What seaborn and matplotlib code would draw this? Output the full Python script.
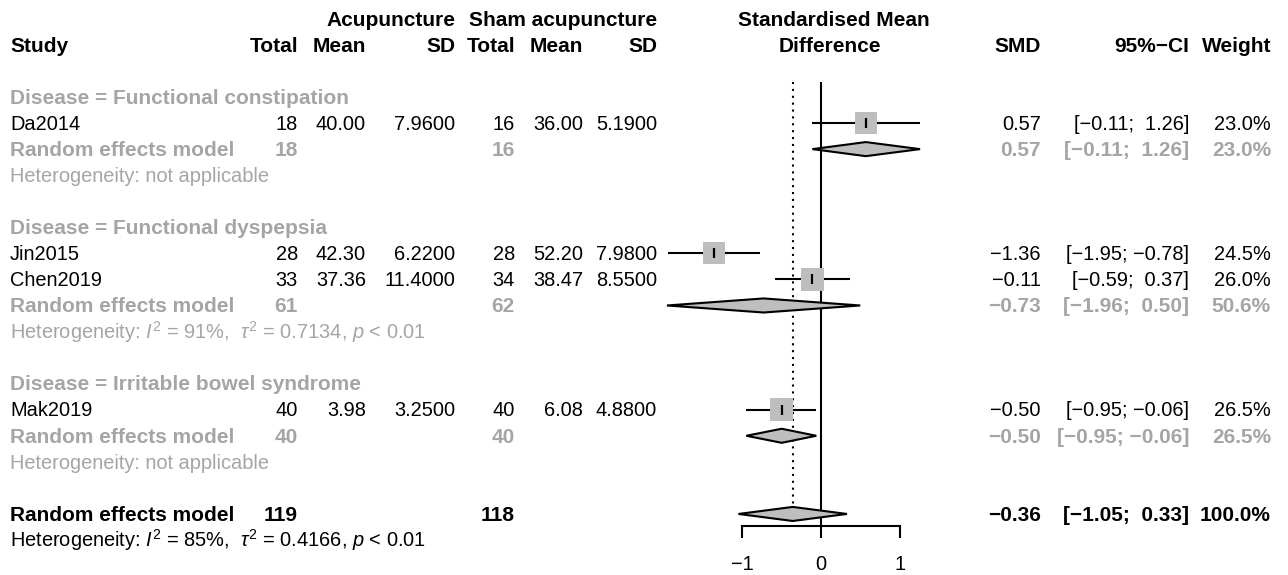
import numpy as np
import pandas as pd
import matplotlib
matplotlib.use("Agg")
import matplotlib.pyplot as plt
import seaborn as sns

# ---------------- data ----------------
studies = ["Da2014", "Jin2015", "Chen2019", "Mak2019"]
study_group = ["Functional constipation", "Functional dyspepsia",
               "Functional dyspepsia", "Irritable bowel syndrome"]
acu_total = [18, 28, 33, 40]
acu_mean = [40.00, 42.30, 37.36, 3.98]
acu_sd = [7.96, 6.22, 11.40, 3.25]
sham_total = [16, 28, 34, 40]
sham_mean = [36.00, 52.20, 38.47, 6.08]
sham_sd = [5.19, 7.98, 8.55, 4.88]
smd = [0.57, -1.36, -0.11, -0.50]
ci_lo = [-0.11, -1.95, -0.59, -0.95]
ci_hi = [1.26, -0.78, 0.37, -0.06]
weight = [23.0, 24.5, 26.0, 26.5]

groups = ["Functional constipation", "Functional dyspepsia", "Irritable bowel syndrome"]
grp_acu_total = [18, 61, 40]
grp_sham_total = [16, 62, 40]
grp_smd = [0.57, -0.73, -0.50]
grp_lo = [-0.11, -1.96, -0.95]
grp_hi = [1.26, 0.50, -0.06]
grp_weight = [23.0, 50.6, 26.5]
grp_i2 = [None, 91, None]
grp_tau2 = [None, 0.7134, None]
grp_p = [None, "< 0.01", None]

overall_acu_total = 119
overall_sham_total = 118
overall_smd = -0.36
overall_lo = -1.05
overall_hi = 0.33
overall_weight = 100.0
overall_i2 = 85
overall_tau2 = 0.4166
overall_p = "< 0.01"

x_ticks = [-1, 0, 1]

# ---------------- style ----------------
sns.set_theme(style="white")
plt.rcParams["font.family"] = ["Liberation Sans", "DejaVu Sans"]
plt.rcParams["mathtext.fontset"] = "custom"
plt.rcParams["mathtext.rm"] = "Liberation Sans"
plt.rcParams["mathtext.it"] = "Liberation Sans:italic"
plt.rcParams["mathtext.bf"] = "Liberation Sans:bold"

FS = 14.4
FSB = 15.0
GRAY_TXT = "#a5a5a5"
GRAY_FILL = "#bebebe"
MINUS = "\u2212"


def fmt(v, d=2):
    return f"{v:.{d}f}".replace("-", MINUS)


def fmt_ci(lo, hi):
    hs = fmt(hi)
    if hi >= 0:
        hs = " " + hs
    return f"[{fmt(lo)}; {hs}]"


def het_text(i2, tau2, p):
    if i2 is None:
        return "Heterogeneity: not applicable"
    return (r"Heterogeneity: $I^2$ = " + f"{i2}%, " + r" $\tau^2$ = "
            + f"{tau2:.4f}, " + r"$p$ " + p)


# ---------------- layout (rows) ----------------
ROW_PX0 = 97.0   # pixel of row 2
ROW_H = 26.06
W, H = 1288, 575
y_top = 2 - ROW_PX0 / ROW_H
y_bot = 2 + (H - ROW_PX0) / ROW_H
AXIS_PX = 526
y_axis = 2 + (AXIS_PX - ROW_PX0) / ROW_H
ZERO_PX = 821.0
SCALE = 78.6

fig = plt.figure(figsize=(W / 100, H / 100), dpi=100)
axt = fig.add_axes([0, 0, 1, 1])
axt.set_xlim(0, W)
axt.set_ylim(y_bot, y_top)
axt.axis("off")

axf = fig.add_axes([0, (H - AXIS_PX) / H, 1, AXIS_PX / H])
axf.set_xlim(-ZERO_PX / SCALE, (W - ZERO_PX) / SCALE)
axf.set_ylim(y_axis, y_top)
axf.patch.set_alpha(0)

# column right edges (px)
C_TOT1, C_MEAN1, C_SD1 = 298, 366, 455
C_TOT2, C_MEAN2, C_SD2 = 515, 583, 657
C_SMD, C_CI, C_W = 1041, 1189, 1271
C_STUDY = 10
BASE = 0.26  # baseline offset (rows) so text is vertically centred


def put(x, row, s, ha="right", color="black", bold=False, size=None):
    if size is None:
        size = FSB if bold else FS
    axt.text(x, row + BASE, s, ha=ha, va="baseline", color=color,
             fontweight="bold" if bold else "normal", fontsize=size)


# headers
put(C_SD1, -1, "Acupuncture", bold=True)
put(C_SD2, -1, "Sham acupuncture", bold=True)
put(834, -1, "Standardised Mean", ha="center", bold=True)
put(C_STUDY, 0, "Study", ha="left", bold=True)
for x, s in [(C_TOT1, "Total"), (C_MEAN1, "Mean"), (C_SD1, "SD"),
             (C_TOT2, "Total"), (C_MEAN2, "Mean"), (C_SD2, "SD"),
             (C_SMD, "SMD"), (C_CI, "95%\u2212CI"), (C_W, "Weight")]:
    put(x, 0, s, bold=True)
put(830, 0, "Difference", ha="center", bold=True)

# compute rows
study_rows = []
grp_rows = []
row = 2
for g_i, g in enumerate(groups):
    put(C_STUDY, row, f"Disease = {g}", ha="left", color=GRAY_TXT, bold=True)
    row += 1
    for i, s in enumerate(studies):
        if study_group[i] == g:
            study_rows.append(row)
            row += 1
    grp_rows.append(row)
    row += 1
    put(C_STUDY, row, het_text(grp_i2[g_i], grp_tau2[g_i], grp_p[g_i]),
        ha="left", color=GRAY_TXT)
    row += 2
overall_row = row

# study text
for i, s in enumerate(studies):
    r = study_rows[i]
    put(C_STUDY, r, s, ha="left")
    put(C_TOT1, r, str(acu_total[i]))
    put(C_MEAN1, r, fmt(acu_mean[i]))
    put(C_SD1, r, fmt(acu_sd[i], 4))
    put(C_TOT2, r, str(sham_total[i]))
    put(C_MEAN2, r, fmt(sham_mean[i]))
    put(C_SD2, r, fmt(sham_sd[i], 4))
    put(C_SMD, r, fmt(smd[i]))
    put(C_CI, r, fmt_ci(ci_lo[i], ci_hi[i]))
    put(C_W, r, f"{weight[i]:.1f}%")

# subgroup text
for g_i in range(len(groups)):
    r = grp_rows[g_i]
    put(C_STUDY, r, "Random effects model", ha="left", color=GRAY_TXT, bold=True)
    put(C_TOT1, r, str(grp_acu_total[g_i]), color=GRAY_TXT, bold=True)
    put(C_TOT2, r, str(grp_sham_total[g_i]), color=GRAY_TXT, bold=True)
    put(C_SMD, r, fmt(grp_smd[g_i]), color=GRAY_TXT, bold=True)
    put(C_CI, r, fmt_ci(grp_lo[g_i], grp_hi[g_i]), color=GRAY_TXT, bold=True)
    put(C_W, r, f"{grp_weight[g_i]:.1f}%", color=GRAY_TXT, bold=True)

# overall text
r = overall_row
put(C_STUDY, r, "Random effects model", ha="left", bold=True)
put(C_TOT1, r, str(overall_acu_total), bold=True)
put(C_TOT2, r, str(overall_sham_total), bold=True)
put(C_SMD, r, fmt(overall_smd), bold=True)
put(C_CI, r, fmt_ci(overall_lo, overall_hi), bold=True)
put(C_W, r, f"{overall_weight:.1f}%", bold=True)
put(C_STUDY, r + 1, het_text(overall_i2, overall_tau2, overall_p), ha="left")

# ---------------- forest ----------------
LW = 1.5
DH = 0.27
line_top = 1.42

axf.vlines(0, line_top, y_axis, color="black", lw=LW, zorder=2, clip_on=False)
axf.vlines(overall_smd, line_top, overall_row - DH, color="black", lw=LW,
           linestyles=(0, (1, 2.3)), zorder=1)

axf.hlines(study_rows, ci_lo, ci_hi, color="black", lw=LW, zorder=2)

df = pd.DataFrame({"smd": smd, "row": study_rows, "weight": weight})
side_pt = {w: (23.0 * np.sqrt(w / max(weight)) * 0.72) ** 2 for w in weight}
sns.scatterplot(data=df, x="smd", y="row", size="weight", sizes=side_pt,
                marker="s", color=GRAY_FILL, linewidth=0, legend=False,
                ax=axf, zorder=3)
axf.scatter(smd, study_rows, marker="|", s=45, color="black", lw=1.6, zorder=4)


def diamond(est, lo, hi, rr):
    xs = [lo, est, hi, est]
    ys = [rr, rr - DH, rr, rr + DH]
    axf.fill(xs, ys, facecolor=GRAY_FILL, edgecolor="black", lw=LW, zorder=3)


for g_i in range(len(groups)):
    diamond(grp_smd[g_i], grp_lo[g_i], grp_hi[g_i], grp_rows[g_i])
diamond(overall_smd, overall_lo, overall_hi, overall_row)

# axis
for sp in ["left", "right", "top"]:
    axf.spines[sp].set_visible(False)
axf.spines["bottom"].set_visible(True)
axf.spines["bottom"].set_color("black")
axf.spines["bottom"].set_linewidth(LW)
axf.spines["bottom"].set_bounds(min(x_ticks), max(x_ticks))
axf.set_xticks(x_ticks)
axf.set_xticklabels([fmt(t, 0) for t in x_ticks])
axf.tick_params(axis="x", bottom=True, direction="out", length=8.6, width=LW,
                color="black", labelsize=FS, pad=12, labelcolor="black")
axf.set_yticks([])
axf.set_xlabel("")
axf.set_ylabel("")
axf.grid(False)

fig.savefig("out.png", dpi=100)
